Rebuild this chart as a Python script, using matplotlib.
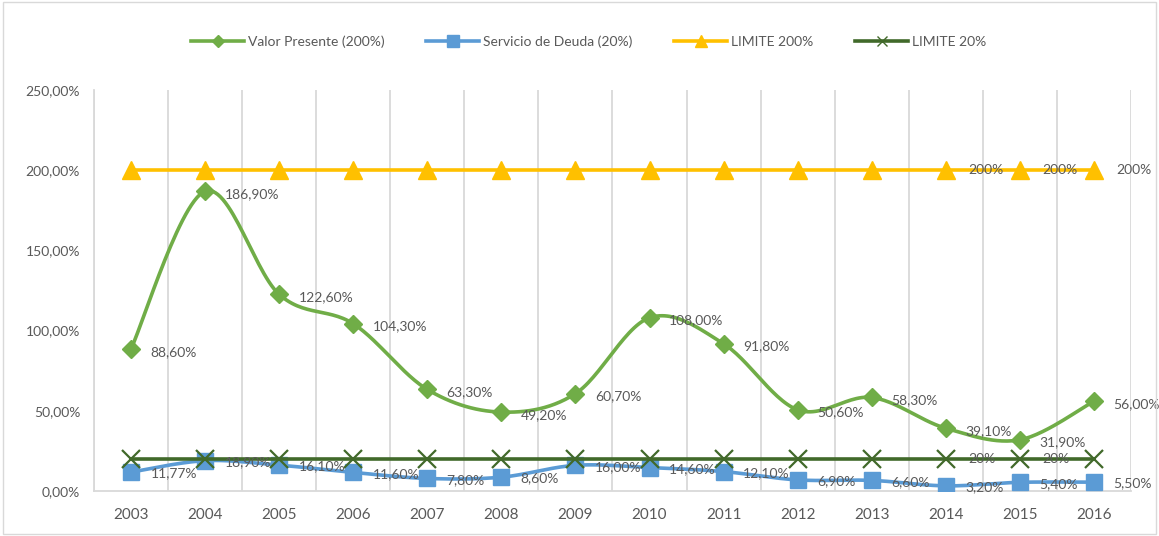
import numpy as np
import matplotlib.pyplot as plt
from matplotlib.patches import Rectangle

plt.rcParams['font.family'] = ['Lato', 'DejaVu Sans']

years = ['2003', '2004', '2005', '2006', '2007', '2008', '2009',
         '2010', '2011', '2012', '2013', '2014', '2015', '2016']

valor_presente = [88.60, 186.90, 122.60, 104.30, 63.30, 49.20, 60.70,
                  108.00, 91.80, 50.60, 58.30, 39.10, 31.90, 56.00]
servicio_deuda = [11.77, 18.90, 16.10, 11.60, 7.80, 8.60, 16.00,
                  14.60, 12.10, 6.90, 6.60, 3.20, 5.40, 5.50]
limite_200 = [200] * 14
limite_20 = [20] * 14

# which limit points carry a label in the original
limit_label_idx = [11, 12]
limit200_label_idx = [11, 12, 13]


def smooth(xs, ys, n=30):
    # Catmull-Rom curve through the points (like Excel's smoothed line)
    xs = np.asarray(xs, float)
    ys = np.asarray(ys, float)
    px = np.concatenate([[xs[0]], xs, [xs[-1]]])
    py = np.concatenate([[ys[0]], ys, [ys[-1]]])
    outx, outy = [], []
    t = np.linspace(0, 1, n)
    for i in range(1, len(px) - 2):
        p0, p1, p2, p3 = (np.array([px[j], py[j]]) for j in (i - 1, i, i + 1, i + 2))
        c1 = p1 + (p2 - p0) / 6
        c2 = p2 - (p3 - p1) / 6
        pts = ((1 - t) ** 3)[:, None] * p1 + (3 * (1 - t) ** 2 * t)[:, None] * c1 \
            + (3 * (1 - t) * t ** 2)[:, None] * c2 + (t ** 3)[:, None] * p2
        outx.extend(pts[:, 0])
        outy.extend(pts[:, 1])
    return np.array(outx), np.array(outy)


def pct(v):
    return f'{v:.2f}%'.replace('.', ',')


green = '#70AD47'
blue = '#5B9BD5'
yellow = '#FFC000'
dark = '#41692A'
grey = '#595959'

fig = plt.figure(figsize=(11.59, 5.36), dpi=100)
ax = fig.add_axes([0.0811, 0.084, 0.8947, 0.748])
x = np.arange(len(years))

sx, sy = smooth(x, valor_presente)
ax.plot(sx, sy, color=green, lw=2.6, zorder=3)
ax.plot(x, valor_presente, ls='none', marker='D', ms=9, color=green, zorder=4)

sx, sy = smooth(x, servicio_deuda)
ax.plot(sx, sy, color=blue, lw=2.6, zorder=3)
ax.plot(x, servicio_deuda, ls='none', marker='s', ms=12, color=blue, zorder=4)

ax.plot(x, limite_200, color=yellow, lw=2.6, marker='^', ms=13, zorder=3)
ax.plot(x, limite_20, color=dark, lw=2.6, marker='x', ms=13, mew=1.6, zorder=5)

# legend proxies
h1, = ax.plot([], [], color=green, lw=2.6, marker='D', ms=6)
h2, = ax.plot([], [], color=blue, lw=2.6, marker='s', ms=9)
h3, = ax.plot([], [], color=yellow, lw=2.6, marker='^', ms=8)
h4, = ax.plot([], [], color=dark, lw=2.6, marker='x', ms=7)
fig.legend([h1, h2, h3, h4],
           ['Valor Presente (200%)', 'Servicio de Deuda (20%)', 'LIMITE 200%', 'LIMITE 20%'],
           loc='center', bbox_to_anchor=(0.508, 0.922), ncol=4, frameon=False,
           fontsize=10, handlelength=3.8, columnspacing=3.0, handletextpad=0.3,
           labelcolor=grey)

lab = dict(textcoords='offset points', ha='left', va='center', fontsize=10,
           color=grey, zorder=6, annotation_clip=False)
for i, v in enumerate(valor_presente):
    ax.annotate(pct(v), (x[i], v), xytext=(14, -2), **lab)
for i, v in enumerate(servicio_deuda):
    ax.annotate(pct(v), (x[i], v), xytext=(14, -1), **lab)
for i in limit200_label_idx:
    ax.annotate(f'{limite_200[i]}%', (x[i], limite_200[i]), xytext=(16, 0), **lab)
for i in limit_label_idx:
    ax.annotate(f'{limite_20[i]}%', (x[i], limite_20[i]), xytext=(16, 0), **lab)

ax.set_xlim(-0.5, len(years) - 0.5)
ax.set_ylim(0, 250)
ax.set_yticks(range(0, 251, 50))
ax.set_yticklabels([pct(v) for v in range(0, 251, 50)])
ax.set_xticks(x)
ax.set_xticklabels(years, fontsize=11)
ax.set_xticks(np.arange(-0.5, len(years)), minor=True)
ax.grid(True, axis='x', which='minor', color='#D9D9D9', lw=1.3)
ax.tick_params(axis='both', which='both', length=0, colors=grey)
ax.tick_params(axis='y', labelsize=10, pad=10)
ax.tick_params(axis='x', pad=12)
for s in ['top', 'right']:
    ax.spines[s].set_visible(False)
for s in ['left', 'bottom']:
    ax.spines[s].set_color('#D9D9D9')
    ax.spines[s].set_linewidth(1.3)

fig.patches.append(Rectangle((0.003, 0.004), 0.994, 0.992, transform=fig.transFigure,
                             fill=False, ec='#D9D9D9', lw=1))

fig.savefig('out.png', dpi=100)
